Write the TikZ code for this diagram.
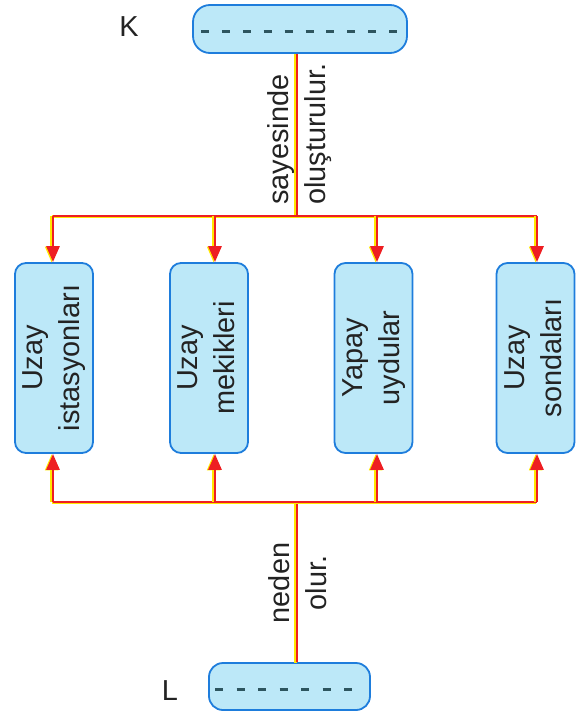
\documentclass[tikz,border=0pt]{standalone}
\usepackage{fontspec}
\setmainfont{Liberation Sans}
\usepackage{graphicx}
\usetikzlibrary{arrows.meta}
\definecolor{boxfill}{RGB}{188,232,248}
\definecolor{boxline}{RGB}{30,125,220}
\definecolor{redc}{RGB}{238,30,34}
\definecolor{yelc}{RGB}{255,232,0}
\definecolor{txtc}{RGB}{35,35,35}
\definecolor{dashc}{RGB}{45,85,95}
\newcommand\rtxt[1]{\rotatebox{90}{\begin{tabular}{@{}c@{}}#1\end{tabular}}}
\newcommand\twoline[2][]{\draw[yelline,#1] #2; \draw[redline,#1] #2;}
\tikzset{
  catbox/.style={draw=boxline, line width=1.8bp, fill=boxfill, rounded corners=11bp,
    minimum width=78bp, minimum height=190bp, inner sep=0pt},
  blankbox/.style={draw=boxline, line width=1.8bp, fill=boxfill, inner sep=0pt},
  dashline/.style={draw=dashc, line width=3bp},
  yelline/.style={draw=yelc, line width=2.4bp, transform canvas={xshift=-1.4bp, yshift=-0.4bp}},
  redline/.style={draw=redc, line width=2.8bp},
  tip/.style={-{Triangle[width=13bp,length=16bp]}},
  lab/.style={rotate=90, inner sep=0pt, text=txtc},
}
\begin{document}
\begin{tikzpicture}[x=1bp,y=-1bp, font=\fontsize{29}{37}\selectfont, text=txtc]
\useasboundingbox (0,0) rectangle (583,719);
% boxes
\node[catbox] (b1) at (54,358) {\rtxt{Uzay\\istasyonları}};
\node[catbox] (b2) at (209,358) {\rtxt{Uzay\\mekikleri}};
\node[catbox] (b3) at (373.5,358) {\rtxt{Yapay\\uydular}};
\node[catbox] (b4) at (535.5,358) {\rtxt{Uzay\\sondaları}};
\node[blankbox, minimum width=214bp, minimum height=48bp, rounded corners=17bp] (kbox) at (300,29) {};
\node[blankbox, minimum width=161bp, minimum height=47bp, rounded corners=14bp] (lbox) at (289.5,686.5) {};
\draw[dashline, dash pattern=on 8bp off 12.9bp] (201,32) -- (397,32);
\draw[dashline, dash pattern=on 8bp off 13.5bp] (215,689) -- (352,689);
\node[inner sep=0pt] (K) at (129,27) {K};
\node[inner sep=0pt] (L) at (170,690.5) {L};
% coordinates
\coordinate (jt) at (297,216);
\coordinate (t1) at (53,216);
\coordinate (t2) at (215,216);
\coordinate (t3) at (377,216);
\coordinate (t4) at (537,216);
\coordinate (jb) at (297,502);
\coordinate (u1) at (53,502);
\coordinate (u2) at (215,502);
\coordinate (u3) at (377,502);
\coordinate (u4) at (537,502);
% connectors
\twoline{(kbox.south -| jt) -- (jt)}
\twoline{(t1) -- (t4)}
\twoline[tip]{(t1) -- (t1 |- b1.north)}
\twoline[tip]{(t2) -- (t2 |- b2.north)}
\twoline[tip]{(t3) -- (t3 |- b3.north)}
\twoline[tip]{(t4) -- (t4 |- b4.north)}
\twoline{(jb) -- (jb |- lbox.north)}
\twoline{(u1) -- (u4)}
\twoline[tip]{(u1) -- (u1 |- b1.south)}
\twoline[tip]{(u2) -- (u2 |- b2.south)}
\twoline[tip]{(u3) -- (u3 |- b3.south)}
\twoline[tip]{(u4) -- (u4 |- b4.south)}
% labels
\node[lab, anchor=base west] (say) at (288,205) {sayesinde};
\node[lab, anchor=base west] (olus) at (325,205) {oluşturulur.};
\node[lab, anchor=base] (ned) at (289,583) {neden};
\node[lab, anchor=base] (olur) at (326,583) {olur.};
\end{tikzpicture}
\end{document}
